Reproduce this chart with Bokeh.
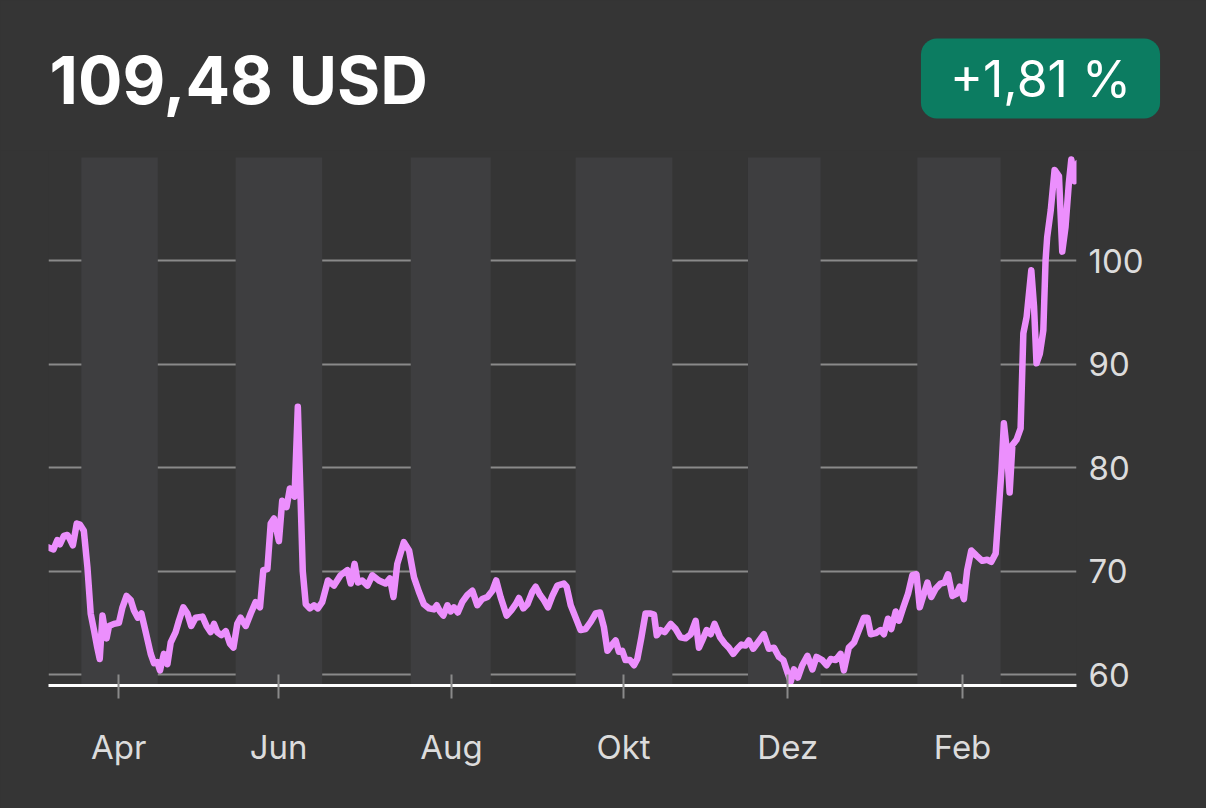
from bokeh.plotting import figure
from bokeh.layouts import column, row
from bokeh.models import Range1d, FixedTicker
from bokeh.embed import file_html
from bokeh.resources import INLINE
from bokeh.core.properties import value

# ---- data (days since start of the series, price in USD) ----
days = [
    0.0, 2.0, 3.4, 4.4, 5.8, 7.1, 8.0, 9.1, 10.5, 11.7,
    13.1, 14.4, 15.6, 16.8, 18.0, 18.9, 19.9, 20.7, 21.4, 22.3,
    24.1, 25.9, 27.2, 28.7, 30.2, 31.4, 32.8, 34.1, 35.7, 37.5,
    38.7, 39.9, 40.9, 42.3, 43.6, 44.8, 46.6, 47.8, 49.4, 50.9,
    52.3, 53.9, 56.4, 57.9, 59.4, 60.6, 61.8, 63.3, 64.9, 66.4,
    67.7,
    69.1, 70.3, 72.2, 74.0, 75.8, 77.4, 78.6, 80.1, 81.3, 82.5,
    84.3, 85.5, 87.1, 88.3, 90.0, 91.2, 93.0, 94.1, 95.6, 97.1,
    98.5, 100.1, 102.2, 104.4, 106.8, 109.3, 110.5, 111.9, 113.1, 114.7,
    116.6, 118.4, 120.8, 123.2, 124.8, 126.1, 127.5, 129.9, 131.8, 133.6,
    135.4, 137.2, 139.1, 140.9, 141.9, 143.1, 144.3, 145.8, 147.0, 148.2,
    149.6, 151.2, 153.1, 154.9, 156.7, 158.5, 160.4, 162.2, 163.6, 165.2,
    167.4, 169.1, 170.7, 171.9, 173.5, 175.0, 176.8, 178.0, 179.6, 181.0,
    182.5, 184.1, 185.9, 188.3, 189.3, 190.8, 192.6, 194.4, 196.2, 198.1,
    199.9, 201.5, 202.9, 204.2, 205.6, 207.2, 208.4,
    209.6, 210.8, 212.4, 213.9, 215.1, 216.6, 218.1, 220.0, 221.2, 222.2,
    223.6, 225.1, 227.3, 229.1, 230.9, 232.7, 234.6, 236.4, 237.6, 238.8,
    240.4, 241.9, 243.3, 245.3, 247.0, 248.5, 250.1, 251.6, 253.1, 254.6,
    255.8, 257.4, 259.1, 261.3, 263.1, 265.0, 266.8, 268.4, 269.9, 271.1,
    272.3, 273.7, 275.3, 277.2, 279.0, 280.5,
    282.6, 284.2, 285.7, 287.5, 289.3, 290.5, 292.3, 294.2, 296.0, 297.8,
    299.1, 300.3, 302.1, 303.9, 305.1, 306.6, 307.8, 309.4, 310.6, 312.2,
    313.9, 315.5, 317.0, 318.2, 319.7, 321.0, 322.4, 324.0, 325.8, 327.3,
    328.5, 330.1, 331.6, 332.8, 334.3, 335.5, 337.0, 338.9, 341.0, 342.8,
    344.3, 345.9,
    347.1, 348.0, 348.9, 350.1, 351.0, 352.0, 353.5, 355.0, 356.0, 357.2,
    358.9, 359.9, 360.8, 362.0, 363.3, 364.1, 364.7, 366.0, 367.4, 369.0,
    370.2, 371.4, 372.6, 373.5, 374.7, 375.9,
]
prices = [
    72.3, 72.1, 73.0, 72.6, 73.4, 73.5, 73.1, 72.5, 74.6, 74.5,
    73.9, 70.4, 65.9, 64.3, 62.6, 61.5, 65.7, 64.4, 63.5, 64.7,
    64.9, 65.0, 66.5, 67.6, 67.2, 66.2, 65.5, 65.9, 64.1, 62.0,
    61.1, 61.2, 60.4, 62.0, 61.0, 63.1, 64.1, 65.2, 66.5, 65.9,
    64.7, 65.5, 65.6, 64.7, 64.1, 64.9, 64.1, 63.8, 64.2, 63.0,
    62.6,
    64.9, 65.5, 64.7, 65.9, 67.0, 66.5, 70.1, 70.2, 74.6, 75.1,
    72.9, 76.8, 76.2, 78.0, 77.2, 85.9, 70.0, 66.8, 66.4, 66.7,
    66.4, 67.0, 69.1, 68.6, 69.6, 70.1, 68.8, 70.7, 68.9, 69.1,
    68.6, 69.6, 69.1, 68.8, 69.3, 67.5, 70.7, 72.8, 72.0, 69.4,
    68.0, 66.8, 66.4, 66.3, 66.7, 66.1, 65.7, 66.7, 66.1, 66.5,
    66.0, 67.0, 67.7, 68.1, 66.7, 67.3, 67.5, 68.1, 69.1, 67.5,
    65.7, 66.2, 66.8, 67.4, 66.4, 66.8, 68.0, 68.5, 67.7, 67.2,
    66.5, 67.6, 68.6, 68.8, 68.5, 66.7, 65.5, 64.3, 64.4, 65.1,
    65.9, 66.0, 64.6, 62.3, 62.8, 63.3, 62.2,
    62.3, 61.4, 61.4, 60.9, 61.5, 63.6, 65.9, 65.9, 65.8, 63.8,
    64.3, 64.1, 64.9, 64.4, 63.6, 63.5, 63.9, 65.2, 62.6, 63.3,
    64.3, 63.9, 64.9, 63.6, 63.0, 62.6, 62.0, 62.5, 62.9, 62.8,
    63.3, 62.5, 63.1, 63.9, 62.5, 62.6, 61.7, 61.4, 60.2, 59.3,
    60.5, 59.7, 60.9, 61.8, 60.5, 61.7,
    61.4, 60.9, 61.5, 61.4, 62.0, 60.4, 62.6, 63.1, 64.3, 65.5,
    65.5, 63.9, 64.0, 64.3, 63.9, 65.4, 64.4, 66.1, 65.2, 66.5,
    67.8, 69.6, 69.7, 66.5, 67.8, 68.9, 67.5, 68.3, 68.8, 68.9,
    69.7, 67.6, 67.8, 68.5, 67.3, 70.1, 72.0, 71.5, 71.0, 71.1,
    70.9, 71.7,
    76.2, 79.7, 84.3, 81.4, 77.6, 82.2, 82.7, 83.8, 93.0, 94.6,
    99.1, 95.6, 90.1, 91.0, 93.3, 100.0, 102.3, 104.9, 108.8, 108.2,
    100.9, 103.3, 107.5, 109.8, 107.7, 109.48,
]
assert len(days) == len(prices)

tick_days = [25.8, 84.2, 147.3, 210.1, 270.0, 333.8]
tick_labels = ["Apr", "Jun", "Aug", "Okt", "Dez", "Feb"]
band_start = [12.2, 68.5, 132.4, 192.6, 255.5, 317.3]
band_end = [40.1, 100.1, 161.6, 227.9, 282.0, 347.7]
band_top = 110.0
price_ticks = [60, 70, 80, 90, 100]
headline = ["109,48 USD"]
change_text = ["+1,81 %"]

# ---- styling ----
BG = "#353535"
BAND = "#3e3e40"
LINE = "#ec8ffd"
GRID = "#8a8a8a"
TEXT = "#dcdcdc"
FONT = "Inter"
W = 1206

# ---- header strip (headline price and change badge) ----
head = figure(width=W, height=150, output_backend="svg", toolbar_location=None,
              x_range=Range1d(0, W), y_range=Range1d(150, 0),
              min_border=0, x_axis_location=None, y_axis_location=None)
head.background_fill_color = BG
head.border_fill_color = BG
head.outline_line_color = None
head.grid.visible = False
head.text(x=[49], y=[79], text=headline, text_font=value(FONT), text_font_size="66px",
          text_font_style="bold", text_color="#ffffff", text_baseline="alphabetic",
          text_align="left")
head.text(x=[1040], y=[78], text=change_text, text_font=value(FONT), text_font_size="50px",
          text_color="#ffffff", text_baseline="middle", text_align="center",
          background_fill_color="#0c7c61", padding=(29, 10), border_radius=16)

# ---- price chart ----
Y0, Y1 = 58.94, 110.68
p = figure(width=W, height=658, output_backend="svg", toolbar_location=None,
           x_range=Range1d(0.2, 375.4), y_range=Range1d(Y0, Y1),
           y_axis_location="right",
           min_border_left=48, min_border_right=130,
           min_border_top=0, min_border_bottom=123)
p.background_fill_color = BG
p.border_fill_color = BG
p.outline_line_color = None

# month bands
p.quad(left=band_start, right=band_end, bottom=Y0, top=band_top,
       fill_color=BAND, line_color=None)

# grid
p.xgrid.visible = False
p.ygrid.ticker = FixedTicker(ticks=price_ticks)
p.ygrid.grid_line_color = GRID
p.ygrid.grid_line_width = 2

# price line
p.line(days, prices, line_color=LINE, line_width=6.5, line_join="round", line_cap="round")

# x axis
xa = p.xaxis[0]
xa.ticker = FixedTicker(ticks=tick_days)
xa.major_label_overrides = {d: lab for d, lab in zip(tick_days, tick_labels)}
xa.axis_line_color = "#ffffff"
xa.axis_line_width = 3
xa.major_tick_line_color = GRID
xa.major_tick_line_width = 2
xa.major_tick_in = 11
xa.major_tick_out = 13
xa.minor_tick_line_color = None
xa.major_label_standoff = 28
xa.major_label_text_font = FONT
xa.major_label_text_font_size = "33px"
xa.major_label_text_color = TEXT

# y axis (right)
ya = p.yaxis[0]
ya.ticker = FixedTicker(ticks=price_ticks)
ya.axis_line_color = None
ya.major_tick_line_color = None
ya.minor_tick_line_color = None
ya.major_tick_out = 0
ya.major_tick_in = 0
ya.major_label_standoff = 12
ya.major_label_text_font = FONT
ya.major_label_text_font_size = "33px"
ya.major_label_text_color = TEXT

layout = column(row(head), p, spacing=0)
html = file_html(layout, INLINE)
html = html.replace("</head>", "<style>html, body { background-color: #353535; }</style></head>", 1)
open("out.html", "w").write(html)
